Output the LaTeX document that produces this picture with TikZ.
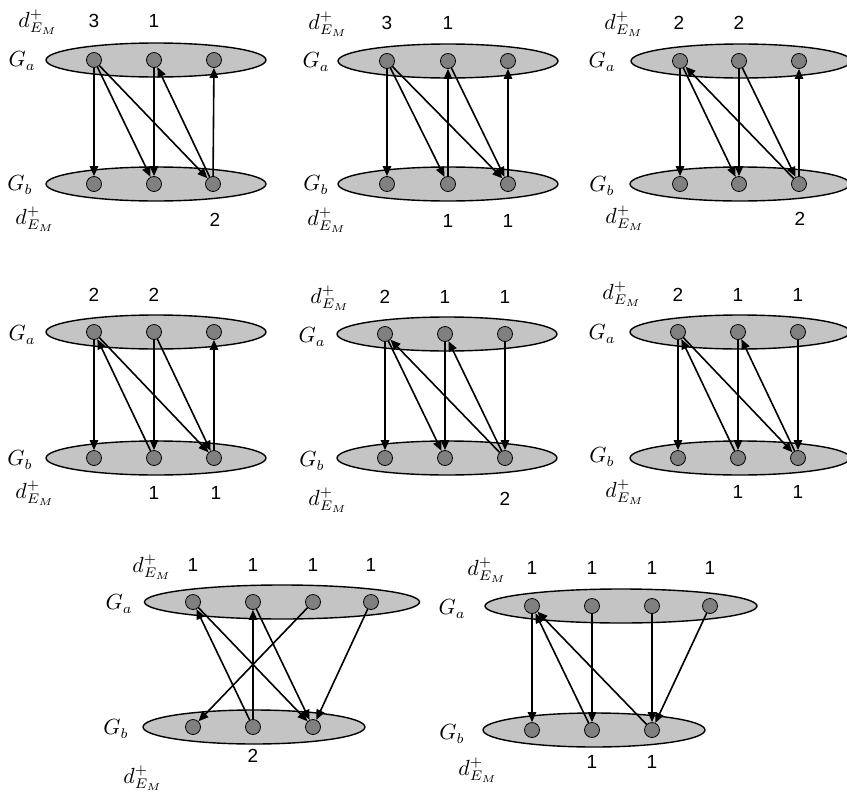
\documentclass[tikz,border=0pt]{standalone}
\usepackage{fontspec}
\setsansfont{Liberation Sans}
\usepackage{tikz}
\usetikzlibrary{shapes.geometric,arrows.meta}
\definecolor{vtxgray}{HTML}{808080}
\definecolor{partgray}{HTML}{C4C4C4}
\tikzset{
  part/.style = {ellipse, draw=black, line width=0.7pt, fill=partgray, inner sep=0pt,
                 minimum height=17pt},
  vtx/.style  = {circle, draw=black, line width=0.4pt, fill=vtxgray, inner sep=0pt,
                 minimum size=7.5pt},
  arc/.style  = {-{Triangle[length=5pt,width=4.2pt]}, line width=0.8pt},
  num/.style  = {font=\sffamily\fontsize{9.5}{11}\selectfont, inner sep=0pt},
  lbl/.style  = {font=\fontsize{10.5}{12}\selectfont, inner sep=0pt},
}
\newcommand{\dplus}{$d^{+}_{E_M}$}
\begin{document}
\begin{tikzpicture}[x=0.5pt,y=-0.5pt]
\useasboundingbox (0,0) rectangle (847,793);

% --- panel 1
\node[part, minimum width=110pt] (p1Ga) at (156,60) {};
\node[part, minimum width=110pt] (p1Gb) at (156,184) {};
\node[vtx] (p1a1) at (94,60) {};
\node[vtx] (p1a2) at (154,60) {};
\node[vtx] (p1a3) at (214,60) {};
\node[vtx] (p1b1) at (94,184) {};
\node[vtx] (p1b2) at (154,184) {};
\node[vtx] (p1b3) at (213,184) {};
\node[lbl] (p1dt) at (38,22) {\dplus};
\node[num] (p1t1) at (94,21) {3};
\node[num] (p1t2) at (154,21) {1};
\node[lbl] (p1la) at (22,61) {$G_a$};
\node[lbl] (p1lb) at (20,185) {$G_b$};
\node[lbl] (p1db) at (35,219) {\dplus};
\node[num] (p1u3) at (215,220) {2};
\draw[arc] (p1a1) -- (p1b1);
\draw[arc] (p1a1) -- (p1b2);
\draw[arc] (p1a1) -- (p1b3);
\draw[arc] (p1a2) -- (p1b2);
\draw[arc] (p1b3) -- (p1a2);
\draw[arc] (p1b3) -- (p1a3);

% --- panel 2
\node[part, minimum width=110pt] (p2Ga) at (448,61) {};
\node[part, minimum width=110pt] (p2Gb) at (448,184) {};
\node[vtx] (p2a1) at (387,61) {};
\node[vtx] (p2a2) at (448,61) {};
\node[vtx] (p2a3) at (508,61) {};
\node[vtx] (p2b1) at (387,184) {};
\node[vtx] (p2b2) at (448,184) {};
\node[vtx] (p2b3) at (508,184) {};
\node[lbl] (p2dt) at (328,24) {\dplus};
\node[num] (p2t1) at (387,23) {3};
\node[num] (p2t2) at (448,23) {1};
\node[lbl] (p2la) at (316,62) {$G_a$};
\node[lbl] (p2lb) at (316,185) {$G_b$};
\node[lbl] (p2db) at (327,220) {\dplus};
\node[num] (p2u2) at (448,221) {1};
\node[num] (p2u3) at (508,221) {1};
\draw[arc] (p2a1) -- (p2b1);
\draw[arc] (p2a1) -- (p2b2);
\draw[arc] (p2a1) -- (p2b3);
\draw[arc] (p2b2) -- (p2a2);
\draw[arc] (p2a2) -- (p2b3);
\draw[arc] (p2b3) -- (p2a3);

% --- panel 3
\node[part, minimum width=110pt] (p3Ga) at (741,61) {};
\node[part, minimum width=110pt] (p3Gb) at (740,184) {};
\node[vtx] (p3a1) at (680,61) {};
\node[vtx] (p3a2) at (739,61) {};
\node[vtx] (p3a3) at (799,61) {};
\node[vtx] (p3b1) at (680,184) {};
\node[vtx] (p3b2) at (739,184) {};
\node[vtx] (p3b3) at (799,184) {};
\node[lbl] (p3dt) at (624,24) {\dplus};
\node[num] (p3t1) at (679,23) {2};
\node[num] (p3t2) at (739,23) {2};
\node[lbl] (p3la) at (602,62) {$G_a$};
\node[lbl] (p3lb) at (602,186) {$G_b$};
\node[lbl] (p3db) at (625,218) {\dplus};
\node[num] (p3u3) at (800,219) {2};
\draw[arc] (p3a1) -- (p3b1);
\draw[arc] (p3a1) -- (p3b2);
\draw[arc] (p3b3) -- (p3a1);
\draw[arc] (p3a2) -- (p3b2);
\draw[arc] (p3a2) -- (p3b3);
\draw[arc] (p3b3) -- (p3a3);

% --- panel 4
\node[part, minimum width=110pt] (p4Ga) at (156,332) {};
\node[part, minimum width=110pt] (p4Gb) at (156,458) {};
\node[vtx] (p4a1) at (94,332) {};
\node[vtx] (p4a2) at (154,332) {};
\node[vtx] (p4a3) at (214,332) {};
\node[vtx] (p4b1) at (94,458) {};
\node[vtx] (p4b2) at (154,458) {};
\node[vtx] (p4b3) at (214,458) {};
\node[num] (p4t1) at (94,295) {2};
\node[num] (p4t2) at (154,295) {2};
\node[lbl] (p4la) at (22,335) {$G_a$};
\node[lbl] (p4lb) at (20,460) {$G_b$};
\node[lbl] (p4db) at (35,493) {\dplus};
\node[num] (p4u2) at (154,493) {1};
\node[num] (p4u3) at (216,493) {1};
\draw[arc] (p4a1) -- (p4b1);
\draw[arc] (p4b2) -- (p4a1);
\draw[arc] (p4a1) -- (p4b3);
\draw[arc] (p4a2) -- (p4b2);
\draw[arc] (p4a2) -- (p4b3);
\draw[arc] (p4b3) -- (p4a3);

% --- panel 5
\node[part, minimum width=110pt] (p5Ga) at (447,334) {};
\node[part, minimum width=110pt] (p5Gb) at (447,458) {};
\node[vtx] (p5a1) at (385,334) {};
\node[vtx] (p5a2) at (445,334) {};
\node[vtx] (p5a3) at (505,334) {};
\node[vtx] (p5b1) at (385,458) {};
\node[vtx] (p5b2) at (445,458) {};
\node[vtx] (p5b3) at (505,458) {};
\node[lbl] (p5dt) at (330,298) {\dplus};
\node[num] (p5t1) at (385,297) {2};
\node[num] (p5t2) at (445,297) {1};
\node[num] (p5t3) at (505,297) {1};
\node[lbl] (p5la) at (312,337) {$G_a$};
\node[lbl] (p5lb) at (312,461) {$G_b$};
\node[lbl] (p5db) at (328,500) {\dplus};
\node[num] (p5u3) at (505,499) {2};
\draw[arc] (p5a1) -- (p5b1);
\draw[arc] (p5a1) -- (p5b2);
\draw[arc] (p5b3) -- (p5a1);
\draw[arc] (p5a2) -- (p5b2);
\draw[arc] (p5b3) -- (p5a2);
\draw[arc] (p5a3) -- (p5b3);

% --- panel 6
\node[part, minimum width=110pt] (p6Ga) at (740,332) {};
\node[part, minimum width=110pt] (p6Gb) at (740,458) {};
\node[vtx] (p6a1) at (678,332) {};
\node[vtx] (p6a2) at (738,332) {};
\node[vtx] (p6a3) at (798,332) {};
\node[vtx] (p6b1) at (678,458) {};
\node[vtx] (p6b2) at (738,458) {};
\node[vtx] (p6b3) at (798,458) {};
\node[lbl] (p6dt) at (622,294) {\dplus};
\node[num] (p6t1) at (678,295) {2};
\node[num] (p6t2) at (738,295) {1};
\node[num] (p6t3) at (798,295) {1};
\node[lbl] (p6la) at (602,334) {$G_a$};
\node[lbl] (p6lb) at (602,457) {$G_b$};
\node[lbl] (p6db) at (625,492) {\dplus};
\node[num] (p6u2) at (738,492) {1};
\node[num] (p6u3) at (798,492) {1};
\draw[arc] (p6a1) -- (p6b1);
\draw[arc] (p6b2) -- (p6a1);
\draw[arc] (p6a1) -- (p6b3);
\draw[arc] (p6a2) -- (p6b2);
\draw[arc] (p6b3) -- (p6a2);
\draw[arc] (p6a3) -- (p6b3);

% --- panel 7
\node[part, minimum width=137.5pt] (p7Ga) at (282,602) {};
\node[part, minimum width=111pt] (p7Gb) at (254,727) {};
\node[vtx] (p7a1) at (193,602) {};
\node[vtx] (p7a2) at (253,602) {};
\node[vtx] (p7a3) at (313,602) {};
\node[vtx] (p7a4) at (371,602) {};
\node[vtx] (p7b1) at (193,727) {};
\node[vtx] (p7b2) at (253,727) {};
\node[vtx] (p7b3) at (313,727) {};
\node[lbl] (p7dt) at (152,567) {\dplus};
\node[num] (p7t1) at (193,565) {1};
\node[num] (p7t2) at (253,565) {1};
\node[num] (p7t3) at (313,565) {1};
\node[num] (p7t4) at (371,565) {1};
\node[lbl] (p7la) at (119,604) {$G_a$};
\node[lbl] (p7lb) at (116,729) {$G_b$};
\node[num] (p7u2) at (253,756) {2};
\node[lbl] (p7db) at (143,778) {\dplus};
\draw[arc] (p7a1) -- (p7b3);
\draw[arc] (p7b2) -- (p7a1);
\draw[arc] (p7b2) -- (p7a2);
\draw[arc] (p7a2) -- (p7b3);
\draw[arc] (p7a3) -- (p7b1);
\draw[arc] (p7a4) -- (p7b3);

% --- panel 8
\node[part, minimum width=136pt] (p8Ga) at (621,606) {};
\node[part, minimum width=111pt] (p8Gb) at (594,730) {};
\node[vtx] (p8a1) at (532,606) {};
\node[vtx] (p8a2) at (592,606) {};
\node[vtx] (p8a3) at (652,606) {};
\node[vtx] (p8a4) at (710,606) {};
\node[vtx] (p8b1) at (532,730) {};
\node[vtx] (p8b2) at (592,730) {};
\node[vtx] (p8b3) at (652,730) {};
\node[lbl] (p8dt) at (487,570) {\dplus};
\node[num] (p8t1) at (532,568) {1};
\node[num] (p8t2) at (592,568) {1};
\node[num] (p8t3) at (652,568) {1};
\node[num] (p8t4) at (710,568) {1};
\node[lbl] (p8la) at (452,609) {$G_a$};
\node[lbl] (p8lb) at (452,734) {$G_b$};
\node[lbl] (p8db) at (478,770) {\dplus};
\node[num] (p8u2) at (592,762) {1};
\node[num] (p8u3) at (652,762) {1};
\draw[arc] (p8a1) -- (p8b1);
\draw[arc] (p8b2) -- (p8a1);
\draw[arc] (p8b3) -- (p8a1);
\draw[arc] (p8a2) -- (p8b2);
\draw[arc] (p8a3) -- (p8b3);
\draw[arc] (p8a4) -- (p8b3);

\end{tikzpicture}
\end{document}
